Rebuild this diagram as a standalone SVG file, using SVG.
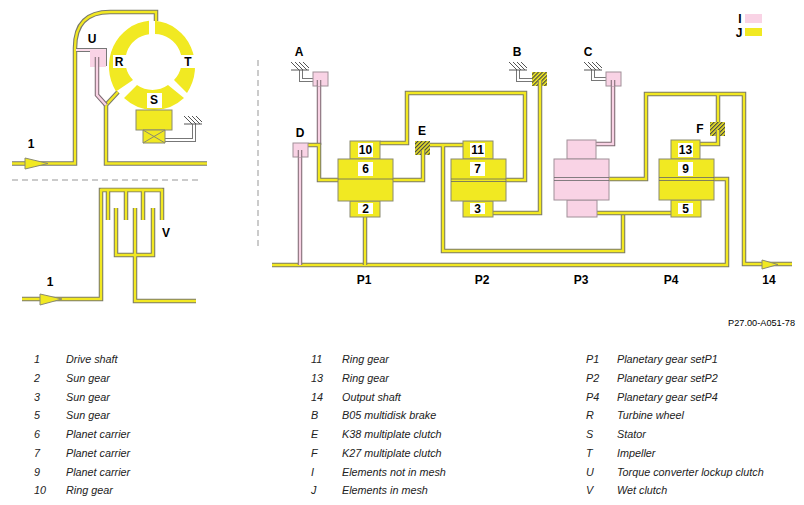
<svg xmlns="http://www.w3.org/2000/svg" width="804" height="505" viewBox="0 0 804 505">
<style>
text{font-family:"Liberation Sans",Arial,sans-serif;fill:#000}
.b{font-weight:bold;font-size:12px;text-anchor:middle}
.n{font-weight:bold;font-size:12px;text-anchor:middle}
.t{font-style:italic;font-size:10.8px;fill:#222}
.sy{fill:none;stroke:#7a7a6a;stroke-width:4.5;stroke-linejoin:miter}
.iy{fill:none;stroke:#f2e822;stroke-width:2.4;stroke-linejoin:miter}
.sp{fill:none;stroke:#7d6a72;stroke-width:4.5}
.ip{fill:none;stroke:#f8d2e4;stroke-width:2.4}
.sg{fill:none;stroke:#777;stroke-width:4}
.ig{fill:none;stroke:#fff;stroke-width:2}
.y{fill:#f1e922;stroke:#8a8a70;stroke-width:1}
.p{fill:#f9d3e5;stroke:#a09098;stroke-width:1}
.py{fill:#f1e922;stroke:none}
.w{fill:#fff}
.h{stroke:#555;stroke-width:1;fill:none}
.thin{stroke:#666;stroke-width:.8;fill:none}
.d{stroke:#bbb;stroke-width:1.5;stroke-dasharray:6 4;fill:none}
</style>
<defs>
<pattern id="hat" width="2.8" height="2.8" patternUnits="userSpaceOnUse" patternTransform="rotate(45)"><rect width="2.8" height="2.8" fill="#f1e922"/><rect width="1.2" height="2.8" fill="#444"/></pattern>
<g id="gnd"><path class="h" d="M-9 0H9M-9-8L-1 0M-5-8L3 0M-1-8L7 0M3-8L9-2"/></g>
</defs>
<g id="connectors">
<path class="sy" d="M12 163.500H75V48Q75 12 110 12H156V21"/><path class="iy" d="M12 163.500H75V48Q75 12 110 12H156V21"/>
<path class="sy" d="M118 92L106 105V163.500H207"/><path class="iy" d="M118 92L106 105V163.500H207"/>
<path class="sg" d="M76 50H105V66"/><path style="fill:none;stroke:#fbdcea;stroke-width:2" d="M76 50H105V66"/>
<path class="sp" d="M97 57V95L106 105"/><path class="ip" d="M97 57V95L106 105"/>
<path class="sg" d="M165 140H194V124"/><path class="ig" d="M165 140H194V124"/>
<path class="sy" d="M22 299H101V190H162V220"/><path class="iy" d="M22 299H101V190H162V220"/>
<path class="sy" d="M108 190V220M126 190V220M143 190V220"/><path class="iy" d="M108 190V220M126 190V220M143 190V220M101 190H162"/>
<path class="sy" d="M116 208V255H153V208M135 208V301H196"/><path class="iy" d="M116 208V255H153V208M135 208V301H196"/>
<path class="sy" d="M272 265H727V179H700"/><path class="iy" d="M272 265H727V179H700"/>
<path class="sp" d="M300 150V265"/><path class="ip" d="M300 150V265"/>
<path class="sy" d="M365 217V265"/><path class="iy" d="M365 217V265"/>
<path class="sp" d="M319 80V145"/><path class="ip" d="M319 80V145"/>
<path class="sy" d="M308 145H319V180H423V150"/><path class="iy" d="M308 145H319V180H423V150"/>
<path class="sy" d="M380 143H407V93H525V180H490"/><path class="iy" d="M380 143H407V93H525V180H490"/>
<path class="sy" d="M430 145H463M443 145V251H623V213"/><path class="iy" d="M430 145H463M443 145V251H623V213"/>
<path class="sy" d="M493 213H540V80"/><path class="iy" d="M493 213H540V80"/>
<path class="sy" d="M596 213H671"/><path class="iy" d="M596 213H671"/>
<path class="sp" d="M613 80V144H596"/><path class="ip" d="M613 80V144H596"/>
<path class="sy" d="M609 179H646V94H744V264H792M718 94V125M718 130V144H700"/><path class="iy" d="M609 179H646V94H744V264H792M718 94V125M718 130V144H700"/>
<path class="sg" d="M301 70V80H313"/><path class="ig" d="M301 70V80H313"/>
<path class="sg" d="M518 70V80H532"/><path class="ig" d="M518 70V80H532"/>
<path class="sg" d="M593 70V79H606"/><path class="ig" d="M593 70V79H606"/>
</g>
<g id="torque-converter">
<path class="py" d="M149 20.700A44 46 0 0 0 116 91.500L133 80A27 27 0 0 1 149 34.300Z"/>
<path class="py" d="M155 20.700A44 46 0 0 1 187 93L174 80A27 27 0 0 0 155 34.100Z"/>
<path class="py" d="M124 98L137 85A27 27 0 0 0 168 85L184 98A43.500 43.500 0 0 1 124 98Z"/>
<rect class="w" x="113" y="55" width="14" height="13"/><rect class="w" x="180" y="55" width="17" height="13"/><rect class="w" x="147" y="93" width="15" height="15"/>
<text class="b" x="119" y="66">R</text><text class="b" x="188" y="66">T</text><text class="b" x="154" y="104">S</text>
<rect class="y" x="136" y="110" width="36" height="20"/>
<path class="y" d="M143 130H165V143H143Z M143 130L165 143M165 130L143 143"/>
<use href="#gnd" x="193" y="124"/>
<rect x="90" y="50" width="16" height="17" fill="#f9d3e5"/>
<path class="sp" d="M97 57V67"/><path class="ip" d="M97 57V67"/>
<path class="y" d="M25 158L48 163.500L25 169Z"/>
<text class="b" x="31" y="148">1</text><text class="b" x="92" y="43">U</text>
</g>
<path class="d" d="M12 180H202"/>
<g id="wet-clutch">
<path class="y" d="M40 294L62 299L40 305Z"/>
<text class="b" x="50" y="286">1</text><text class="b" x="166" y="237">V</text>
</g>
<path class="d" d="M258 60V248"/>
<g id="A"><rect class="p" x="313" y="72" width="15" height="14"/><path class="sp" d="M319 80V86"/><path class="ip" d="M319 80V86"/><use href="#gnd" x="300" y="70"/><text class="b" x="299" y="56">A</text></g>
<g id="B"><rect x="532" y="72" width="15" height="14" fill="url(#hat)"/><path class="sy" d="M540 80V86"/><path class="iy" d="M540 80V86"/><use href="#gnd" x="518" y="70"/><text class="b" x="517" y="56">B</text></g>
<g id="C"><rect class="p" x="606" y="72" width="15" height="14"/><path class="sp" d="M613 80V86"/><path class="ip" d="M613 80V86"/><use href="#gnd" x="593" y="70"/><text class="b" x="588" y="56">C</text></g>
<g id="D"><rect class="p" x="293" y="143" width="15" height="14"/><path class="sp" d="M300 150V157"/><path class="ip" d="M300 150V157"/><text class="b" x="300" y="137">D</text></g>
<g id="E"><rect x="415" y="141" width="15" height="14" fill="url(#hat)"/><path class="sy" d="M423 150V155"/><path class="iy" d="M423 150V155"/><text class="b" x="422" y="135">E</text></g>
<g id="F"><rect x="710" y="122" width="15" height="14" fill="url(#hat)"/><path class="sy" d="M718 130V136"/><path class="iy" d="M718 130V136"/><text class="b" x="700" y="133">F</text></g>
<g id="P1">
<rect class="y" x="350" y="141" width="30" height="18"/><rect class="y" x="350" y="201" width="30" height="16"/><rect class="y" x="338" y="159" width="55" height="42"/>
<path class="thin" d="M338 179H393"/>
<rect class="w" x="358" y="143" width="15" height="14"/><rect class="w" x="358" y="162" width="15" height="14"/><rect class="w" x="358" y="203" width="15" height="11"/>
<text class="n" x="365.500" y="154">10</text><text class="n" x="365.500" y="173">6</text><text class="n" x="365.500" y="213">2</text>
</g>
<g id="P2">
<rect class="y" x="463" y="141" width="30" height="18"/><rect class="y" x="463" y="201" width="30" height="16"/><rect class="y" x="451" y="159" width="55" height="42"/>
<path class="thin" d="M451 179H506M451 181.500H506"/>
<rect class="w" x="470" y="143" width="15" height="14"/><rect class="w" x="470" y="162" width="15" height="14"/><rect class="w" x="470" y="203" width="15" height="11"/>
<text class="n" x="477.500" y="154">11</text><text class="n" x="477.500" y="173">7</text><text class="n" x="477.500" y="213">3</text>
</g>
<g id="P3">
<rect class="p" x="567" y="140" width="29" height="19"/><rect class="p" x="567" y="200" width="30" height="17"/><rect class="p" x="554" y="159" width="55" height="41"/>
<path class="thin" d="M554 177.500H609M554 180.500H609"/>
</g>
<g id="P4">
<rect class="y" x="671" y="140" width="29" height="19"/><rect class="y" x="671" y="200" width="30" height="17"/><rect class="y" x="659" y="159" width="55" height="41"/>
<path class="thin" d="M659 177.500H714M659 180.500H714"/>
<rect class="w" x="678" y="143" width="15" height="14"/><rect class="w" x="678" y="162" width="15" height="14"/><rect class="w" x="678" y="203" width="15" height="11"/>
<text class="n" x="685.500" y="154">13</text><text class="n" x="685.500" y="173">9</text><text class="n" x="685.500" y="213">5</text>
</g>
<g id="output"><path class="y" d="M762 260L778 264.500L762 269Z"/><text class="b" x="769" y="284">14</text></g>
<g id="labels">
<text class="b" x="364" y="284">P1</text><text class="b" x="482" y="284">P2</text><text class="b" x="581" y="284">P3</text><text class="b" x="671" y="284">P4</text>
<text x="795" y="326" font-size="9.200" text-anchor="end" fill="#333">P27.00-A051-78</text>
</g>
<g id="legend">
<rect x="745" y="14" width="17" height="9" fill="#f9d3e5"/><rect x="745" y="28" width="17" height="8" fill="#f1e922"/>
<text class="b" x="740" y="23">I</text><text class="b" x="739" y="37">J</text>
</g>
<g id="key">
<text class="t" x="34" y="363">1</text><text class="t" x="66" y="363">Drive shaft</text>
<text class="t" x="34" y="382">2</text><text class="t" x="66" y="382">Sun gear</text>
<text class="t" x="34" y="401">3</text><text class="t" x="66" y="401">Sun gear</text>
<text class="t" x="34" y="419">5</text><text class="t" x="66" y="419">Sun gear</text>
<text class="t" x="34" y="438">6</text><text class="t" x="66" y="438">Planet carrier</text>
<text class="t" x="34" y="457">7</text><text class="t" x="66" y="457">Planet carrier</text>
<text class="t" x="34" y="476">9</text><text class="t" x="66" y="476">Planet carrier</text>
<text class="t" x="34" y="494">10</text><text class="t" x="66" y="494">Ring gear</text>
<text class="t" x="311" y="363">11</text><text class="t" x="342" y="363">Ring gear</text>
<text class="t" x="311" y="382">13</text><text class="t" x="342" y="382">Ring gear</text>
<text class="t" x="311" y="401">14</text><text class="t" x="342" y="401">Output shaft</text>
<text class="t" x="311" y="419">B</text><text class="t" x="342" y="419">B05 multidisk brake</text>
<text class="t" x="311" y="438">E</text><text class="t" x="342" y="438">K38 multiplate clutch</text>
<text class="t" x="311" y="457">F</text><text class="t" x="342" y="457">K27 multiplate clutch</text>
<text class="t" x="311" y="476">I</text><text class="t" x="342" y="476">Elements not in mesh</text>
<text class="t" x="311" y="494">J</text><text class="t" x="342" y="494">Elements in mesh</text>
<text class="t" x="586" y="363">P1</text><text class="t" x="617" y="363">Planetary gear setP1</text>
<text class="t" x="586" y="382">P2</text><text class="t" x="617" y="382">Planetary gear setP2</text>
<text class="t" x="586" y="401">P4</text><text class="t" x="617" y="401">Planetary gear setP4</text>
<text class="t" x="586" y="419">R</text><text class="t" x="617" y="419">Turbine wheel</text>
<text class="t" x="586" y="438">S</text><text class="t" x="617" y="438">Stator</text>
<text class="t" x="586" y="457">T</text><text class="t" x="617" y="457">Impeller</text>
<text class="t" x="586" y="476">U</text><text class="t" x="617" y="476">Torque converter lockup clutch</text>
<text class="t" x="586" y="494">V</text><text class="t" x="617" y="494">Wet clutch</text>
</g>
</svg>
